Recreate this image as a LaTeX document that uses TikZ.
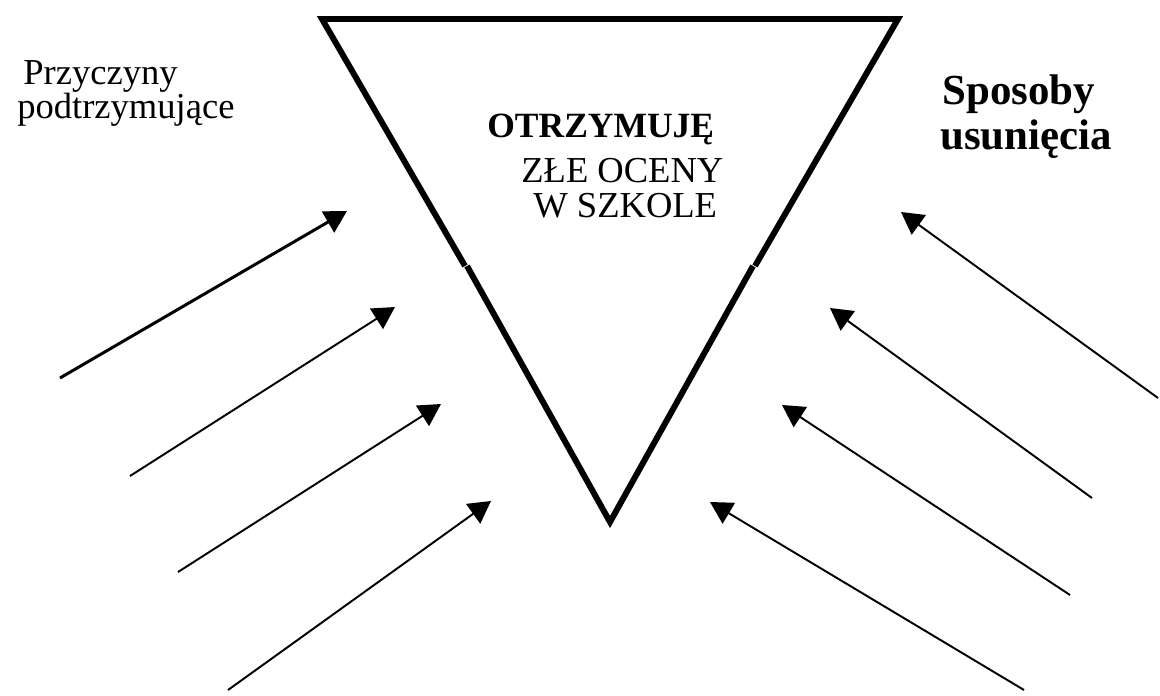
\documentclass[tikz,border=0pt]{standalone}
\usepackage{fontspec}
\setmainfont{Liberation Serif}
\usetikzlibrary{arrows.meta}

\tikzset{
  edge/.style={line width=3.4pt,line join=miter},
  push/.style={line width=1.1pt,-{Triangle[length=0.44cm,width=0.48cm]}},
  txt/.style={anchor=base west,inner sep=0pt,font=\fontsize{20.8}{25}\selectfont},
  btxt/.style={txt,font=\fontsize{20.2}{24}\selectfont\bfseries},
  big/.style={txt,font=\fontsize{24.4}{29}\selectfont\bfseries}
}

\begin{document}
\begin{tikzpicture}[x=0.02cm,y=-0.02cm]
\useasboundingbox (0,0) rectangle (1160,696);
% triangle
\coordinate (tl) at (322,19);
\coordinate (tr) at (898,19);
\coordinate (bot) at (610,522);
\coordinate (lu) at (465,266);
\coordinate (ld) at (467,266);
\coordinate (ru) at (755,266);
\coordinate (rd) at (753,266);
\draw[edge] (lu) -- (tl) -- (tr) -- (ru);
\draw[edge] (ld) -- (bot) -- (rd);
% texts
\node[txt] (przy) at (23,85) {Przyczyny};
\node[txt] (podt) at (17,119) {podtrzymujące};
\node[big] (spos) at (942,105) {Sposoby};
\node[big] (usun) at (940,150) {usunięcia};
\node[btxt] (otrz) at (487,137) {OTRZYMUJĘ};
\node[txt] (zle) at (521,182) {ZŁE OCENY};
\node[txt] (szk) at (533,217) {W SZKOLE};
% arrows left
\coordinate (a1) at (60,378);   \coordinate (h1) at (347,211);
\coordinate (a2) at (130,476);  \coordinate (h2) at (395,307);
\coordinate (a3) at (178,572);  \coordinate (h3) at (441,404);
\coordinate (a4) at (228,690);  \coordinate (h4) at (491,501);
\draw[push,line width=1.7pt] (a1) to (h1);
\draw[push] (a2) to (h2);
\draw[push] (a3) to (h3);
\draw[push] (a4) to (h4);
% arrows right
\coordinate (b1) at (1158,398); \coordinate (k1) at (901,212);
\coordinate (b2) at (1092,498); \coordinate (k2) at (830,308);
\coordinate (b3) at (1070,595); \coordinate (k3) at (782,405);
\coordinate (b4) at (1024,690); \coordinate (k4) at (710,502);
\draw[push] (b1) to (k1);
\draw[push] (b2) to (k2);
\draw[push] (b3) to (k3);
\draw[push] (b4) to (k4);
\end{tikzpicture}
\end{document}
